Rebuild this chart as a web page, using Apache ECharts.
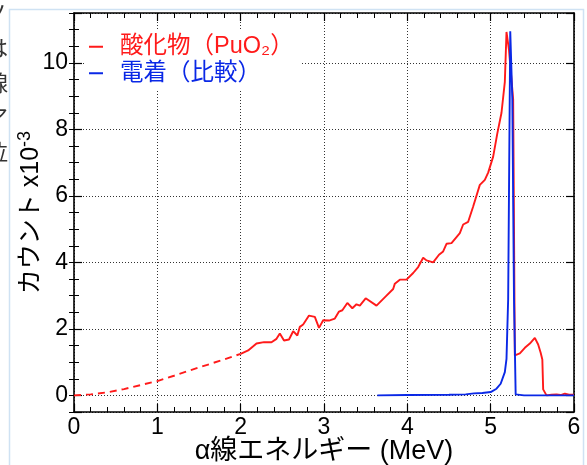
<!DOCTYPE html>
<html>
<head>
<meta charset="utf-8">
<script src="https://cdn.jsdelivr.net/npm/echarts@6/dist/echarts.min.js"></script>
<style>
html,body{margin:0;padding:0;background:#fff;}
#c{width:587px;height:465px;}
</style>
</head>
<body>
<div id="c"></div>
<script>
// ---- data ----
var xTickValues = [0, 1, 2, 3, 4, 5, 6];
var yTickValues = [0, 2, 4, 6, 8, 10];

var redDashX = [0.0, 0.2, 0.4, 0.6, 0.8, 1.0, 1.2, 1.4, 1.6, 1.8, 2.0];
var redDashY = [0.00, 0.03, 0.09, 0.19, 0.31, 0.43, 0.59, 0.76, 0.92, 1.08, 1.25];

var redX = [2.00, 2.09, 2.19, 2.28, 2.37, 2.43, 2.47, 2.52, 2.58, 2.63, 2.68, 2.71, 2.75, 2.82, 2.89, 2.94, 2.99, 3.06, 3.13, 3.18, 3.22, 3.28, 3.34, 3.39, 3.43, 3.50, 3.63, 3.75, 3.83, 3.85, 3.91, 3.99, 4.07, 4.13, 4.19, 4.23, 4.31, 4.38, 4.43, 4.47, 4.53, 4.63, 4.67, 4.73, 4.79, 4.87, 4.93, 4.97, 5.03, 5.08, 5.13, 5.17, 5.19, 5.22, 5.27, 5.29, 5.35, 5.41, 5.47, 5.53, 5.57, 5.60, 5.62, 5.63, 5.67, 5.73, 5.79, 5.84, 5.89, 5.94, 6.00];
var redY = [1.25, 1.35, 1.56, 1.60, 1.60, 1.70, 1.86, 1.65, 1.68, 1.93, 1.80, 2.06, 2.13, 2.40, 2.36, 2.03, 2.26, 2.25, 2.31, 2.52, 2.56, 2.78, 2.62, 2.74, 2.70, 2.92, 2.70, 3.00, 3.20, 3.36, 3.48, 3.48, 3.68, 3.86, 4.14, 4.06, 4.00, 4.23, 4.33, 4.56, 4.58, 4.88, 5.14, 5.22, 5.68, 6.33, 6.48, 6.70, 7.18, 7.88, 8.50, 9.43, 10.93, 10.38, 8.90, 1.20, 1.26, 1.43, 1.56, 1.73, 1.53, 1.28, 1.08, 0.18, 0.00, 0.02, 0.03, 0.01, 0.05, 0.02, 0.02];

var blueX = [3.64, 4.00, 4.50, 4.70, 4.80, 4.90, 5.00, 5.07, 5.12, 5.17, 5.19, 5.21, 5.235, 5.25, 5.26, 5.28, 5.30, 5.40, 6.00];
var blueY = [0.00, 0.01, 0.02, 0.03, 0.06, 0.07, 0.10, 0.20, 0.35, 0.70, 1.10, 2.90, 10.95, 10.95, 8.90, 2.90, 0.03, 0.00, 0.00];

var seriesNames = ['酸化物（PuO₂）', '電着（比較）'];

// ---- build ----
function pairs(xs, ys) { return xs.map(function (x, i) { return [x, ys[i]]; }); }

var FONT = '"Liberation Sans", Arial, "Noto Sans CJK JP", sans-serif';
var RED = '#ff1a1a';
var BLUE = '#0a28e6';
var gridLine = { show: true, lineStyle: { color: '#333', width: 1, type: [1, 2] } };

function xAx(pos, main) {
  return {
    type: 'value', position: pos, min: 0, max: 6, interval: 1,
    axisLine: { show: true, onZero: false, lineStyle: { color: '#000', width: 1.6 } },
    axisTick: { show: true, inside: true, length: 8, lineStyle: { color: '#000', width: 1.2 } },
    minorTick: { show: true, splitNumber: 5, length: 5, lineStyle: { color: '#000', width: 1 } },
    axisLabel: main ? { show: true, margin: 4, fontSize: 23, color: '#000', fontFamily: FONT,
      formatter: function (v) { return xTickValues.indexOf(v) >= 0 ? String(v) : ''; } } : { show: false },
    splitLine: main ? gridLine : { show: false },
    name: main ? 'α線エネルギー (MeV)' : '',
    nameLocation: 'middle', nameGap: 26, nameMoveOverlap: false,
    nameTextStyle: { fontSize: 27, color: '#000', fontFamily: FONT }
  };
}
function yMajor(pos, main) {
  return {
    type: 'value', position: pos, min: -0.5, max: 11.5,
    axisLine: { show: true, onZero: false, lineStyle: { color: '#000', width: 1.6 } },
    axisTick: { show: true, inside: true, length: 8, lineStyle: { color: '#000', width: 1.2 } },
    axisLabel: main ? { show: true, margin: 6, fontSize: 23, color: '#000', fontFamily: FONT,
      showMinLabel: true, showMaxLabel: true,
      formatter: function (v) { return yTickValues.indexOf(v) >= 0 ? String(v) : ''; } } : { show: false },
    splitLine: main ? gridLine : { show: false },
    name: main ? 'カウント x10{sup|-3}' : '',
    nameLocation: 'middle', nameRotate: 90, nameGap: 27, nameMoveOverlap: false,
    nameTextStyle: { fontSize: 25, color: '#000', fontFamily: FONT,
      rich: { sup: { fontSize: 18, color: '#000', fontFamily: FONT, padding: [0, 0, 13, 0] } } }
  };
}
function yMinor(pos) {
  return {
    type: 'value', position: pos, min: -0.5, max: 11.5, interval: 0.5,
    axisLine: { show: false },
    axisTick: { show: true, inside: true, length: 5, lineStyle: { color: '#000', width: 1 } },
    axisLabel: { show: false }, splitLine: { show: false }
  };
}

var chart = echarts.init(document.getElementById('c'), null, { renderer: 'canvas' });
chart.setOption({
  animation: false,
  backgroundColor: '#fff',
  textStyle: { fontFamily: FONT },
  grid: { left: 74, right: 13, top: 13, bottom: 53, containLabel: false, outerBoundsMode: 'none' },
  xAxis: [xAx('bottom', true), xAx('top', false)],
  yAxis: [yMajor('left', true), yMinor('left'), yMajor('right', false), yMinor('right')],
  legend: {
    left: 85, top: 31, orient: 'vertical', itemGap: 3,
    backgroundColor: '#fff', padding: [4, 8, 6, 4],
    icon: 'rect', itemWidth: 14, itemHeight: 2,
    textStyle: { fontSize: 23.5, fontFamily: FONT, padding: [0, 0, 0, 12] },
    data: [
      { name: seriesNames[0], textStyle: { color: RED } },
      { name: seriesNames[1], textStyle: { color: BLUE } }
    ]
  },
  series: [
    { name: 'dash', type: 'line', xAxisIndex: 0, yAxisIndex: 0, data: pairs(redDashX, redDashY),
      showSymbol: false, symbol: 'none', lineStyle: { color: RED, width: 1.9, type: [7, 5] }, z: 3 },
    { name: seriesNames[0], type: 'line', xAxisIndex: 0, yAxisIndex: 0, data: pairs(redX, redY),
      showSymbol: false, symbol: 'none', color: RED, lineStyle: { color: RED, width: 1.9 }, z: 3 },
    { name: seriesNames[1], type: 'line', xAxisIndex: 0, yAxisIndex: 0, data: pairs(blueX, blueY),
      showSymbol: false, symbol: 'none', color: BLUE, lineStyle: { color: BLUE, width: 1.9 }, z: 4 }
  ],
  graphic: [
    { type: 'rect', shape: { x: 9.5, y: 9.5, width: 574, height: 470 }, style: { fill: 'none', stroke: '#cfe2f3', lineWidth: 1.5 }, z: -1, silent: true },
    { type: 'text', left: -14, top: 2, style: { text: 'ノ', fontSize: 22, fill: '#333', fontFamily: '"Noto Sans CJK JP"' } },
    { type: 'text', left: -14, top: 37, style: { text: 'は', fontSize: 22, fill: '#333', fontFamily: '"Noto Sans CJK JP"' } },
    { type: 'text', left: -14, top: 72, style: { text: '線', fontSize: 22, fill: '#333', fontFamily: '"Noto Sans CJK JP"' } },
    { type: 'text', left: -14, top: 106, style: { text: 'ア', fontSize: 22, fill: '#333', fontFamily: '"Noto Sans CJK JP"' } },
    { type: 'text', left: -14, top: 141, style: { text: '位', fontSize: 22, fill: '#333', fontFamily: '"Noto Sans CJK JP"' } },
    { type: 'text', left: -14, top: 175, style: { text: '。', fontSize: 22, fill: '#333', fontFamily: '"Noto Sans CJK JP"' } }
  ]
});
</script>
</body>
</html>
